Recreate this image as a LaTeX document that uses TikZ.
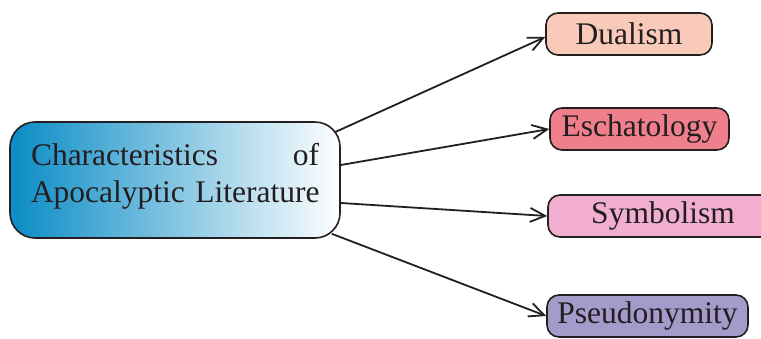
\documentclass[tikz,border=0pt]{standalone}
\usepackage{fontspec}
\setmainfont{Liberation Serif}
\usetikzlibrary{arrows.meta,calc}
\definecolor{ink}{HTML}{231F20}
\definecolor{blueL}{HTML}{0A8CC5}
\definecolor{cDual}{HTML}{F9C9BA}
\definecolor{cEsch}{HTML}{F07F8C}
\definecolor{cSymb}{HTML}{F1AED0}
\definecolor{cPseu}{HTML}{A59BCB}
\tikzset{
  txt/.style={font=\fontsize{31.5}{37}\selectfont, text=ink},
  mainbox/.style={txt, draw=ink, line width=1.6pt, rounded corners=25pt,
    left color=blueL, right color=white, minimum width=330pt, minimum height=116pt,
    inner xsep=21pt, text width=288pt, align=left},
  leaf/.style={txt, draw=ink, line width=1.6pt, rounded corners=12pt,
    minimum height=42pt, inner sep=0pt},
  link/.style={draw=ink, line width=1.8pt, -{Straight Barb[length=15pt,width=14pt,line width=1.8pt]}}
}
\begin{document}
\begin{tikzpicture}[x=1pt,y=-1pt]
\clip (0,0) rectangle (761,338);
\node[mainbox] (main) at (175,180) {\mbox{Characteristics}\hfill of\\\mbox{Apocalyptic Literature}\par\vspace*{7pt}};
\node[leaf, fill=cDual, minimum width=166pt] (dual) at (629,34) {Dualism};
\node[leaf, fill=cEsch, minimum width=179pt] (esch) at (639.5,129) {Eschatology};
\node[leaf, fill=cSymb, minimum width=230pt] (symb) at (663,216) {Symbolism};
\node[leaf, fill=cPseu, minimum width=201pt] (pseu) at (647.5,316) {Pseudonymity};
\draw[link] ($(main.north east)+(-6,11)$) -- ($(dual.west)+(0,3)$);
\draw[link] ($(main.east)+(0,-15)$) -- (esch.west);
\draw[link] ($(main.east)+(0,23)$) -- (symb.west);
\draw[link] ($(main.south east)+(-9,-5)$) -- (pseu.west);
\end{tikzpicture}
\end{document}
